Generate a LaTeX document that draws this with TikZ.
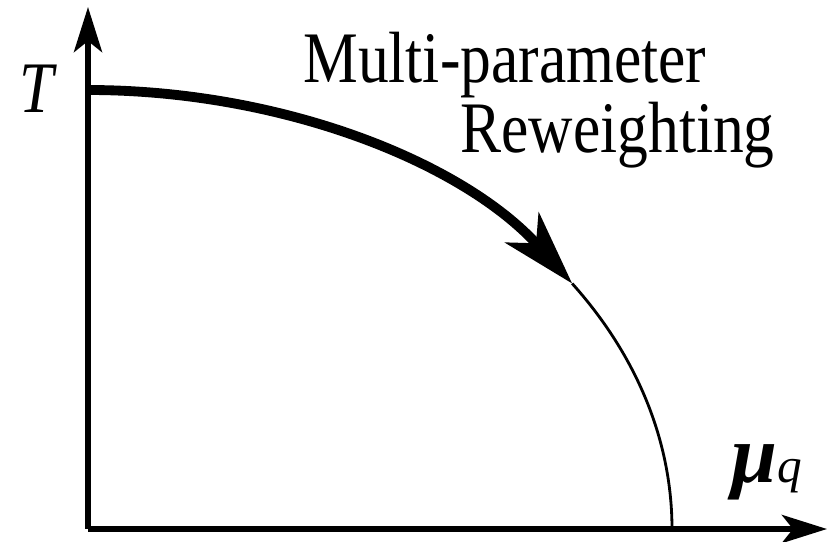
\documentclass[tikz,border=0pt]{standalone}
\usepackage{fontspec}
\setmainfont{Liberation Serif}
\usetikzlibrary{arrows.meta, positioning}

\begin{document}
\begin{tikzpicture}[
  axis/.style={line width=3.4pt, -{Stealth[length=0.9cm, width=0.56cm, inset=0.22cm]}},
  flow/.style={line width=5.6pt, -{Stealth[length=1.5cm, width=0.9cm, inset=0.42cm]}},
  edge/.style={line width=1.6pt},
  lbl/.style={font=\fontsize{35pt}{40pt}\selectfont, inner sep=0pt, yscale=1.18}
]
\useasboundingbox (0,0) rectangle (16.6,10.82);

% axes
\coordinate (O) at (1.76, 0.24);
\coordinate (ytop) at (1.76, 10.68);
\coordinate (xend) at (16.54, 0.24);
\draw[axis] (O) -- (ytop);
\draw[axis] (O) -- (xend);

% axis labels
\node[lbl, anchor=base west] (tlab) at (0.38, 8.56) {\textit{T}};
\node[inner sep=0pt, anchor=base west] (mulab) at (14.62, 1.18)
  {{\fontsize{47pt}{47pt}\selectfont\textbf{\textit{μ}}}%
   {\fontsize{28pt}{28pt}\selectfont\textit{q}}};

% phase boundary
\coordinate (top) at (1.76, 9.02);
\draw[flow] (top) arc[start angle=90, end angle=34, x radius=11.68, y radius=8.78]
  coordinate (tip);
\draw[edge] (tip) arc[start angle=34, end angle=0, x radius=11.68, y radius=8.78];

% text
\node[lbl, anchor=base west] (mp) at (6.06, 9.16) {Multi-parameter};
\node[lbl, anchor=base west] (rw) at (9.2, 7.76) {Reweighting};

\end{tikzpicture}
\end{document}
